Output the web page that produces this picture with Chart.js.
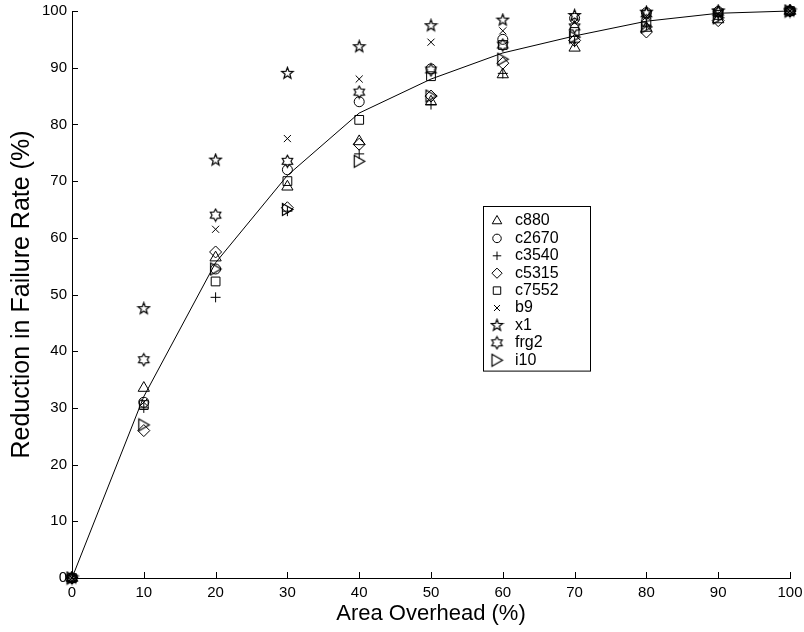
<!DOCTYPE html>
<html>
<head>
<meta charset="utf-8">
<script src="https://cdn.jsdelivr.net/npm/chart.js@4/dist/chart.umd.min.js"></script>
<style>
  html, body { margin: 0; padding: 0; background: #fff; }
  #wrap { width: 804px; height: 632px; }
</style>
</head>
<body>
<div id="wrap"><canvas id="chart" width="804" height="632"></canvas></div>
<script>
// x positions (area overhead %)
const overhead = [0, 10, 20, 30, 40, 50, 60, 70, 80, 90, 100];

// reduction in failure rate (%) per benchmark
const c880  = [0, 33.5, 56.5, 69.0, 77.0, 84.0, 88.8, 93.5, 97.0, 98.5, 100];
const c2670 = [0, 31.0, 54.5, 72.0, 84.0, 89.8, 95.0, 98.7, 99.7, 99.9, 100];
const c3540 = [0, 30.0, 49.5, 64.7, 74.8, 83.5, 89.0, 94.5, 97.5, 99.0, 100];
const c5315 = [0, 26.0, 57.5, 65.3, 76.5, 85.0, 90.8, 94.8, 96.3, 98.3, 100];
const c7552 = [0, 30.5, 52.3, 70.0, 80.8, 88.5, 94.0, 96.3, 98.0, 99.3, 100];
const b9    = [0, 31.0, 61.5, 77.5, 88.0, 94.5, 96.5, 98.0, 99.0, 99.5, 100];
const x1    = [0, 47.5, 73.7, 89.0, 93.7, 97.4, 98.4, 99.2, 99.8, 100, 100];
const frg2  = [0, 38.5, 64.0, 73.5, 85.7, 89.6, 94.0, 97.2, 99.5, 99.8, 100];
const i10   = [0, 27.0, 54.5, 65.0, 73.5, 85.0, 91.5, 95.4, 97.2, 98.8, 100];

// average trend line
const trend = [0, 32.0, 55.6, 71.0, 82.0, 88.0, 92.6, 95.6, 98.2, 99.6, 100];

const yTicks = [0, 10, 20, 30, 40, 50, 60, 70, 80, 90, 100];

const FONT = "'Liberation Sans', Arial, Helvetica, sans-serif";

// small canvases for marker shapes Chart.js does not have
function makeMarker(drawFn) {
    const c = document.createElement('canvas');
    c.width = 15; c.height = 15;
    const g = c.getContext('2d');
    g.strokeStyle = '#000';
    g.lineWidth = 1.2;
    g.beginPath();
    drawFn(g);
    g.closePath();
    g.stroke();
    return c;
}

function starPath(g, n, R, r) {
    for (let i = 0; i < n * 2; i++) {
        const a = -Math.PI / 2 + i * Math.PI / n;
        const rad = i % 2 === 0 ? R : r;
        const px = 7.5 + Math.cos(a) * rad, py = 7.5 + Math.sin(a) * rad;
        if (i === 0) g.moveTo(px, py); else g.lineTo(px, py);
    }
}

const pentagram = makeMarker(g => starPath(g, 5, 6, 2.5));
const hexagram = makeMarker(g => starPath(g, 6, 6, 3.5));
const triRight = makeMarker(g => { g.moveTo(2.5, 1.5); g.lineTo(13, 7.5); g.lineTo(2.5, 13.5); });

const series = [
    { label: 'c880',  data: c880,  style: 'triangle', r: 6.5 },
    { label: 'c2670', data: c2670, style: 'circle',   r: 5 },
    { label: 'c3540', data: c3540, style: 'cross',    r: 5 },
    { label: 'c5315', data: c5315, style: 'rectRot',  r: 6 },
    { label: 'c7552', data: c7552, style: 'rect',     r: 6.2 },
    { label: 'b9',    data: b9,    style: 'crossRot', r: 5 },
    { label: 'x1',    data: x1,    style: pentagram,  r: 6 },
    { label: 'frg2',  data: frg2,  style: hexagram,   r: 6 },
    { label: 'i10',   data: i10,   style: triRight,   r: 6 }
];

const datasets = [{
    label: 'trend',
    data: overhead.map((x, i) => ({ x: x, y: trend[i] })),
    showLine: true,
    borderColor: '#000',
    borderWidth: 1,
    pointRadius: 0,
    clip: false
}];

series.forEach(s => {
    datasets.push({
        label: s.label,
        data: overhead.map((x, i) => ({ x: x, y: s.data[i] })),
        showLine: false,
        pointStyle: s.style,
        pointRadius: s.r,
        pointBorderColor: '#000',
        pointBackgroundColor: 'rgba(0,0,0,0)',
        pointBorderWidth: 1,
        clip: false
    });
});

// inward tick marks, MATLAB style
const inwardTicks = {
    id: 'inwardTicks',
    afterDraw(chart) {
        const ctx = chart.ctx;
        const xs = chart.scales.x, ys = chart.scales.y;
        const area = chart.chartArea;
        ctx.save();
        ctx.strokeStyle = '#000';
        ctx.lineWidth = 1;
        ctx.beginPath();
        xs.ticks.forEach(t => {
            const px = Math.round(xs.getPixelForValue(t.value)) + 0.5;
            ctx.moveTo(px, area.bottom);
            ctx.lineTo(px, area.bottom - 6);
        });
        ys.ticks.forEach(t => {
            const py = Math.round(ys.getPixelForValue(t.value)) + 0.5;
            ctx.moveTo(area.left, py);
            ctx.lineTo(area.left + 6, py);
        });
        ctx.stroke();
        ctx.restore();
    }
};

// boxed legend inside the plot
const boxLegend = {
    id: 'boxLegend',
    afterDraw(chart) {
        const ctx = chart.ctx;
        const left = 483, top = 206, w = 107, rowH = 17.4;
        const h = rowH * series.length + 8;
        ctx.save();
        ctx.fillStyle = '#fff';
        ctx.fillRect(left, top, w, h);
        ctx.strokeStyle = '#000';
        ctx.lineWidth = 1;
        ctx.strokeRect(left + 0.5, top + 0.5, w, h);
        ctx.font = '16px ' + FONT;
        ctx.textBaseline = 'middle';
        ctx.textAlign = 'left';
        series.forEach((s, i) => {
            const cy = top + 15 + i * rowH;
            ctx.strokeStyle = '#000';
            ctx.fillStyle = 'rgba(0,0,0,0)';
            ctx.lineWidth = 1;
            Chart.helpers.drawPoint(ctx, { pointStyle: s.style, radius: s.r * 0.85, borderWidth: 1, rotation: 0 }, left + 14, cy);
            ctx.fillStyle = '#000';
            ctx.fillText(s.label, left + 32, cy);
        });
        ctx.restore();
    }
};

new Chart(document.getElementById('chart'), {
    type: 'scatter',
    data: { datasets: datasets },
    options: {
        responsive: false,
        animation: false,
        layout: { padding: { left: 0, right: 14, top: 11, bottom: 0 } },
        scales: {
            x: {
                type: 'linear',
                min: 0,
                max: 100,
                afterFit: s => { s.height = 54; s.paddingLeft = 0; s.paddingRight = 0; },
                afterBuildTicks: s => { s.ticks = overhead.map(v => ({ value: v })); },
                grid: { display: false, drawTicks: false },
                border: { display: true, color: '#000', width: 1 },
                ticks: { color: '#000', padding: 6, maxRotation: 0, font: { family: FONT, size: 15 } },
                title: { display: true, text: 'Area Overhead (%)', color: '#000', padding: { top: 0, bottom: 5 }, font: { family: FONT, size: 22 } }
            },
            y: {
                type: 'linear',
                min: 0,
                max: 100,
                afterFit: s => { s.width = 72; s.paddingTop = 0; s.paddingBottom = 0; },
                afterBuildTicks: s => { s.ticks = yTicks.map(v => ({ value: v })); },
                grid: { display: false, drawTicks: false },
                border: { display: true, color: '#000', width: 1 },
                ticks: { color: '#000', padding: 5, font: { family: FONT, size: 15 } },
                title: { display: true, text: 'Reduction in Failure Rate (%)', color: '#000', padding: { top: 7, bottom: 0 }, font: { family: FONT, size: 25 } }
            }
        },
        plugins: {
            legend: { display: false },
            tooltip: { enabled: false }
        }
    },
    plugins: [inwardTicks, boxLegend]
});
</script>
</body>
</html>
